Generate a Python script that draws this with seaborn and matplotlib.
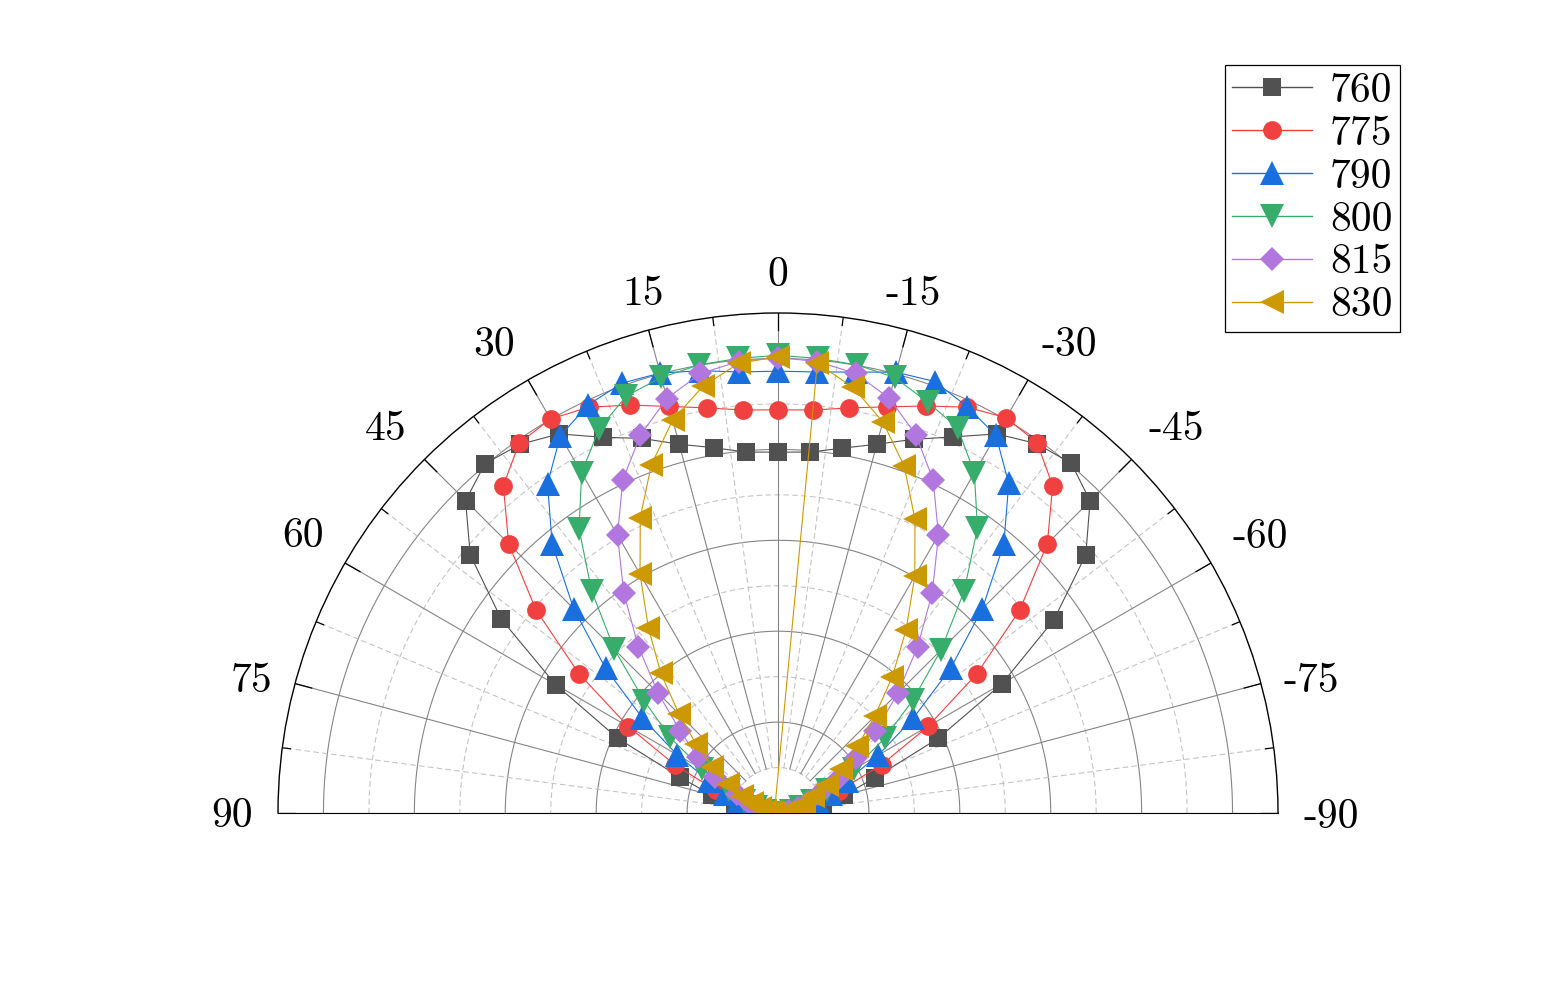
import numpy as np
import pandas as pd
import seaborn as sns
import matplotlib.pyplot as plt

plt.rcParams['font.family'] = ['cmr10', 'DejaVu Serif']
plt.rcParams['axes.unicode_minus'] = False

# angles in degrees, left half (positive) and right half (negative)
angles_pos = [0, 5, 10, 15, 20, 25, 30, 35, 40, 45, 50, 55, 60, 65, 70, 75, 80, 85, 90]
angles_neg = [-5, -10, -15, -20, -25, -30, -35, -40, -45, -50, -55, -60, -65, -70, -75, -80, -85, -90]

series_names = ['760', '775', '790', '800', '815', '830']

# normalised radius (left = 0..90, right = -5..-90)
r760_left = [0.794, 0.797, 0.816, 0.840, 0.877, 0.912, 0.963, 0.990, 1.003, 0.972, 0.884, 0.743, 0.565, 0.389, 0.229, 0.150, 0.095, 0.040, 0.010]
r760_right = [0.797, 0.815, 0.840, 0.875, 0.913, 0.963, 0.992, 1.004, 0.971, 0.884, 0.741, 0.569, 0.389, 0.228, 0.150, 0.100, 0.040, 0.010]

r775_left = [0.887, 0.890, 0.905, 0.926, 0.955, 0.985, 1.001, 0.993, 0.940, 0.838, 0.695, 0.535, 0.380, 0.250, 0.145, 0.080, 0.045, 0.020, 0.008]
r775_right = [0.890, 0.905, 0.925, 0.953, 0.985, 1.004, 0.994, 0.940, 0.838, 0.694, 0.534, 0.381, 0.252, 0.143, 0.080, 0.045, 0.020, 0.008]

r790_left = [0.972, 0.974, 0.988, 1.002, 1.006, 0.990, 0.958, 0.884, 0.773, 0.636, 0.495, 0.364, 0.256, 0.168, 0.125, 0.090, 0.045, 0.020, 0.006]
r790_right = [0.974, 0.985, 1.004, 1.010, 0.986, 0.959, 0.885, 0.773, 0.636, 0.496, 0.363, 0.254, 0.168, 0.125, 0.090, 0.045, 0.020, 0.006]

r800_left = [1.007, 1.004, 1.001, 0.992, 0.976, 0.932, 0.864, 0.763, 0.638, 0.509, 0.384, 0.290, 0.192, 0.120, 0.080, 0.050, 0.028, 0.012, 0.005]
r800_right = [1.004, 1.001, 0.992, 0.962, 0.935, 0.864, 0.765, 0.637, 0.507, 0.388, 0.287, 0.192, 0.120, 0.080, 0.050, 0.028, 0.012, 0.005]

r815_left = [1.002, 0.997, 0.982, 0.944, 0.885, 0.808, 0.706, 0.592, 0.478, 0.373, 0.281, 0.216, 0.160, 0.100, 0.070, 0.045, 0.025, 0.012, 0.005]
r815_right = [0.997, 0.982, 0.945, 0.886, 0.808, 0.706, 0.592, 0.478, 0.373, 0.280, 0.210, 0.155, 0.100, 0.070, 0.045, 0.025, 0.012, 0.005]

r830_left = [1.004, 0.993, 0.953, 0.895, 0.815, 0.717, 0.607, 0.497, 0.401, 0.308, 0.235, 0.176, 0.127, 0.088, 0.062, 0.042, 0.028, 0.016, 0.008]
r830_right = [0.993, 0.951, 0.891, 0.812, 0.713, 0.602, 0.491, 0.391, 0.301, 0.228, 0.170, 0.124, 0.086, 0.060, 0.041, 0.027, 0.016, 0.008]

colors = ['#515151', '#F14040', '#1A6FDF', '#37AD6B', '#B177DE', '#CC9900']
markers = ['s', 'o', '^', 'v', 'D', '<']
msizes = [13.5, 13.5, 17, 17, 12.5, 17]

tick_deg = [90, 75, 60, 45, 30, 15, 0, -15, -30, -45, -60, -75, -90]
tick_labels = ['90', '75', '60', '45', '30', '15', '0', '-15', '-30', '-45', '-60', '-75', '-90']
minor_deg = [-82.5, -67.5, -52.5, -37.5, -22.5, -7.5, 7.5, 22.5, 37.5, 52.5, 67.5, 82.5]

lefts = [r760_left, r775_left, r790_left, r800_left, r815_left, r830_left]
rights = [r760_right, r775_right, r790_right, r800_right, r815_right, r830_right]

frames = []
for name, left, right in zip(series_names, lefts, rights):
    if name == '830':
        # this series was stored 0 -> 90 then -5 -> -90
        theta = angles_pos + angles_neg
        r = left + right
    else:
        theta = angles_neg[::-1] + angles_pos
        r = right[::-1] + left
    frames.append(pd.DataFrame({'theta': np.radians(theta), 'r': r, 'series': name}))
df = pd.concat(frames, ignore_index=True)

fig = plt.figure(figsize=(15.62, 10.06), dpi=100)
# square box, the half disc sits in its middle: centre (778, 813), radius 500 px
ax = fig.add_axes([278 / 1562, (1006 - 1063) / 1006, 1000 / 1562, 1000 / 1006], projection='polar')
ax.set_theta_zero_location('N')
ax.set_theta_direction(1)
ax.set_thetamin(-90)
ax.set_thetamax(90)
ax.set_rlim(0, 1.1)
ax.grid(False)
ax.set_yticks([])
ax.set_xticks([])

# grid: circles and spokes
t_fine = np.linspace(-np.pi / 2, np.pi / 2, 400)
for rr in [0.2, 0.4, 0.6, 0.8, 1.0]:
    ax.plot(t_fine, np.full_like(t_fine, rr), color='#858585', lw=0.8, zorder=1)
for rr in [0.1, 0.3, 0.5, 0.7, 0.9]:
    ax.plot(t_fine, np.full_like(t_fine, rr), color='#C4C4C4', lw=0.8, dashes=(5, 3), zorder=1)
for d in tick_deg:
    ax.plot([np.radians(d)] * 2, [0.1, 1.1], color='#858585', lw=0.8, zorder=1)
for d in minor_deg:
    ax.plot([np.radians(d)] * 2, [0.1, 1.1], color='#C4C4C4', lw=0.8, dashes=(5, 3), zorder=1)

# inward ticks on the rim
for d in tick_deg:
    ax.plot([np.radians(d)] * 2, [1.1 - 0.038, 1.1], color='black', lw=0.9, zorder=2)
for d in minor_deg:
    ax.plot([np.radians(d)] * 2, [1.1 - 0.018, 1.1], color='black', lw=0.9, zorder=2)

for name, c, m, ms in zip(series_names, colors, markers, msizes):
    sub = df[df['series'] == name]
    sns.lineplot(x=sub['theta'].values, y=sub['r'].values, ax=ax, sort=False, estimator=None,
                 color=c, marker=m, markersize=ms, markeredgewidth=0, lw=0.8, label=name, zorder=3)

ax.set_xlabel('')
ax.set_ylabel('')

# angle labels, placed like the original: near edge aligned to the rim
label_off = {0: (0, 27.5, 'center'), 15: (-5.6, 25.5, 'center'), 30: (-13, 23.5, 'right'),
             45: (-17.4, 19.9, 'right'), 60: (-21, 15.5, 'right'), 75: (-23, -8.9, 'right'),
             90: (-25, -14.5, 'right')}
for d, lab in zip(tick_deg, tick_labels):
    ox, oy, ha = label_off[abs(d)]
    if d < 0:
        ox = -ox
        ha = {'right': 'left', 'center': 'center'}[ha]
    ax.annotate(lab, xy=(np.radians(d), 1.1), xytext=(ox, oy), textcoords='offset pixels',
                ha=ha, va='baseline', fontsize=30, annotation_clip=False)

ax.spines['polar'].set_color('black')
ax.spines['polar'].set_linewidth(1.0)
for s in ['start', 'end', 'inner']:
    ax.spines[s].set_visible(False)

leg = ax.legend(loc='upper right', bbox_to_anchor=(1400 / 1562, 1 - 65 / 1006),
                bbox_transform=fig.transFigure, fontsize=30, frameon=True, fancybox=False,
                framealpha=1, edgecolor='black', borderpad=0.18, labelspacing=0.13,
                handlelength=1.92, handletextpad=0.42, borderaxespad=0, numpoints=1)
leg.get_frame().set_linewidth(0.9)
for h in leg.get_lines():
    h.set_linewidth(1.0)

fig.savefig('out.png', dpi=100)
